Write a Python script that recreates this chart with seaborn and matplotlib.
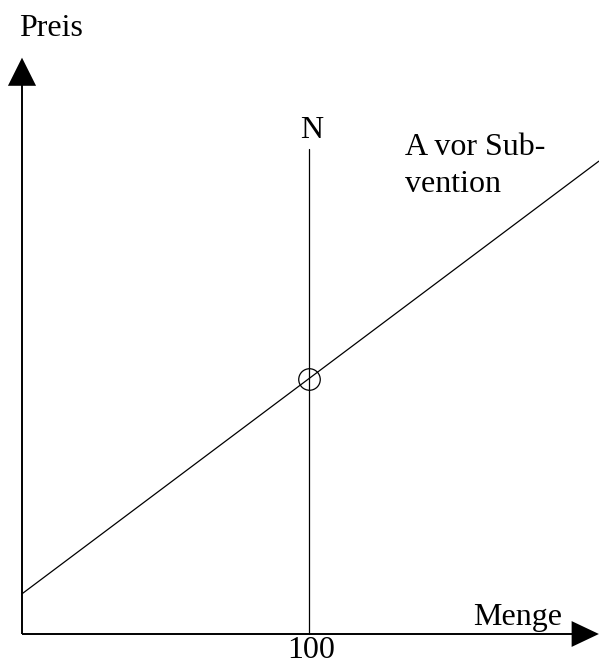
import matplotlib
matplotlib.use("Agg")
import matplotlib.pyplot as plt
import pandas as pd
import seaborn as sns

# Angebot vor Subvention: Preis = a + b * Menge
menge = [0, 201]
preis_angebot = [14, 14 + 0.75 * 201]
# senkrechte Nachfrage bei Menge 100
nachfrage_menge = [100, 100]
nachfrage_preis = [0, 169]
gleichgewicht_menge = [100]
gleichgewicht_preis = [14 + 0.75 * 100]
x_tick = 100

if __name__ == "__main__":
    sns.set_theme(style="white")
    plt.rcParams["font.family"] = ["Liberation Serif", "DejaVu Serif"]
    plt.rcParams["text.color"] = "black"

    fig = plt.figure(figsize=(5.99, 6.66), dpi=100)
    ax = fig.add_axes([0, 0, 1, 1])
    ax.set_xlim(-22 / 2.87, 577 / 2.87)
    ax.set_ylim(-32 / 2.87, 634 / 2.87)
    ax.axis("off")

    df_a = pd.DataFrame({"Menge": menge, "Preis": preis_angebot})
    df_n = pd.DataFrame({"Menge": nachfrage_menge, "Preis": nachfrage_preis})
    sns.lineplot(data=df_a, x="Menge", y="Preis", ax=ax, color="black", lw=0.9,
                 sort=False, estimator=None)
    sns.lineplot(data=df_n, x="Menge", y="Preis", ax=ax, color="black", lw=0.9,
                 sort=False, estimator=None)
    ax.plot(gleichgewicht_menge, gleichgewicht_preis, marker="o", ms=15.5, mfc="none",
            mec="black", mew=0.9, ls="none")

    # Achsen mit Pfeilspitzen
    ax.plot([0, 192], [0, 0], color="black", lw=1.4, solid_capstyle="butt")
    ax.plot([0, 0], [0, 192], color="black", lw=1.4, solid_capstyle="butt")
    ax.arrow(191.5, 0, 0.01, 0, head_width=9.0, head_length=9.5, fc="black", ec="black",
             length_includes_head=False, lw=0)
    ax.arrow(0, 191, 0, 0.01, head_width=9.8, head_length=9.8, fc="black", ec="black",
             length_includes_head=False, lw=0)

    fs = 23
    ax.text(-1.05, 208.4, "Preis", fontsize=fs, ha="left", va="baseline")
    ax.text(157.1, 3.1, "Menge", fontsize=fs, ha="left", va="baseline")
    ax.text(101.0, 172.8, "N", fontsize=fs, ha="center", va="baseline")
    ax.text(133.4, 166.9, "A vor Sub-", fontsize=fs, ha="left", va="baseline")
    ax.text(133.4, 154.0, "vention", fontsize=fs, ha="left", va="baseline")
    ax.text(x_tick + 0.9, -8.4, str(x_tick), fontsize=fs, ha="center", va="baseline")

    plt.savefig("out.png", dpi=100)
